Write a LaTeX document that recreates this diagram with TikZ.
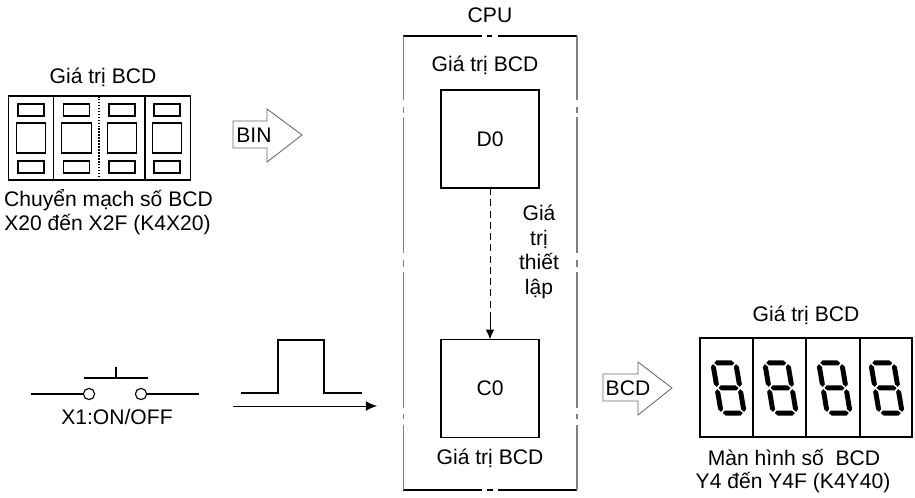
\documentclass[tikz,border=0pt]{standalone}
\usepackage{fontspec}
\setmainfont{Liberation Sans}
\usepackage{tikz}
\usetikzlibrary{arrows.meta}
\newcommand{\hsegat}[1]{\fill[shift={(0,#1)}] (-10,0)--(-7.5,-2.5)--(7.5,-2.5)--(10,0)--(7.5,2.5)--(-7.5,2.5)--cycle;}
\newcommand{\vsegat}[2]{\fill[shift={(#1,#2)}] (0,-11.3)--(-2.5,-8.8)--(-2.5,8.8)--(0,11.3)--(2.5,8.8)--(2.5,-8.8)--cycle;}
\tikzset{
  lbl/.style={inner sep=0pt,font=\fontsize{15}{17.4}\selectfont},
  cnt/.style={draw,line width=1pt,minimum width=2.45cm,minimum height=2.45cm,inner sep=0pt,outer sep=0pt,font=\fontsize{15}{17.4}\selectfont},
  slot/.style={draw,line width=0.8pt,minimum width=0.65cm,minimum height=0.3cm,inner sep=0pt},
  wheel/.style={draw,line width=0.8pt,minimum width=0.74cm,minimum height=0.75cm,inner sep=0pt},
  contact/.style={circle,draw,line width=0.8pt,minimum size=0.28cm,inner sep=0pt,outer sep=0pt},
  wire/.style={line width=1pt},
  bigarrow/.style={draw=black!60,line width=0.6pt},
  sidebar/.style={draw=black!50,line width=0.8pt},
  capbar/.style={line width=0.8pt},
  digit/.pic={
    \begin{scope}[xslant=-0.17]
    \hsegat{-25}\hsegat{0}\hsegat{25}
    \vsegat{-11.5}{-12.5}\vsegat{11.5}{-12.5}\vsegat{-11.5}{12.5}\vsegat{11.5}{12.5}
    \end{scope}
  }
}

\begin{document}
\begin{tikzpicture}[x=0.025cm,y=-0.025cm]
\useasboundingbox (0,0) rectangle (915,498);
% digital switch
\node[lbl] (swtop) at (103,77) {Giá trị BCD};
\node[draw,line width=0.8pt,minimum width=4.54cm,minimum height=2.1cm,inner sep=0pt] (swbox) at (99.3,138) {};
\foreach \x in {53.5,145} \draw[line width=1.3pt] (\x,96)--(\x,180);
\draw[line width=1.1pt,densely dotted] (99,96)--(99,180);
\foreach \i/\x in {1/31,2/76.5,3/122,4/167} {
  \node[slot] (st\i) at (\x,110) {};
  \node[wheel] (sm\i) at (\x,138) {};
  \node[slot] (sb\i) at (\x,167) {};
}
\node[lbl] (swname) at (108.5,200) {Chuyển mạch số BCD};
\node[lbl] (swaddr) at (107.5,225) {X20 đến X2F (K4X20)};
% BIN
\draw[bigarrow] (233,121)--(267,121)--(267,109)--(302,135)--(267,162)--(267,148)--(233,148)--cycle;
\node[lbl] (bin) at (254,135) {BIN};
% CPU
\node[lbl] (cpu) at (490,15) {CPU};
\draw[capbar] (403,36)--(482,36) (487,36)--(492,36) (498,36)--(577,36);
\draw[capbar] (403,490)--(482,490) (487,490)--(493,490) (498,490)--(577,490);
\foreach \x in {403.5,577} {
  \draw[sidebar] (\x,36)--(\x,100) (\x,107)--(\x,113) (\x,117)--(\x,253) (\x,260)--(\x,267) (\x,272)--(\x,408)
    (\x,414)--(\x,419) (\x,425)--(\x,490);
}
\node[lbl] (dtop) at (485,65) {Giá trị BCD};
\node[cnt] (d0) at (490,139) {D0};
\node[cnt] (c0) at (490,388.5) {C0};
\node[lbl] (cbot) at (490,458) {Giá trị BCD};
\coordinate (dashend) at (490,312);
\draw[line width=0.7pt,dash pattern=on 5pt off 3pt] (d0)--(dashend);
\draw[line width=0.7pt,-{Latex[length=7pt,width=6pt]}] (dashend)--(c0);
\node[lbl,align=center] (setval) at (539,252) {Giá\\trị\\thiết\\lập};
% contact
\node[contact] (ka) at (89,394) {};
\node[contact] (kb) at (141,394) {};
\coordinate (wl) at (31,394);
\coordinate (wr) at (199,394);
\draw[wire] (wl)--(ka) (kb)--(wr);
\draw[wire] (84,378)--(148,378) (116,367)--(116,378);
\node[lbl] (x1) at (117,417) {X1:ON/OFF};
% pulse
\draw[wire] (241,393)--(278,393)--(278,340)--(324,340)--(324,393)--(362,393);
\coordinate (ps) at (233,406);
\coordinate (pe) at (377,406);
\draw[line width=0.7pt,-{Latex[length=8pt,width=7pt]}] (ps)--(pe);
% BCD
\draw[bigarrow] (603,374)--(638,374)--(638,362)--(672,388)--(638,415)--(638,401)--(603,401)--cycle;
\node[lbl] (bcd) at (628,388) {BCD};
% display
\node[lbl] (distop) at (806,315) {Giá trị BCD};
\node[draw,line width=1.3pt,minimum width=5.3cm,minimum height=2.475cm,inner sep=0pt] (disbox) at (806,387.5) {};
\foreach \x in {753,806,860} \draw[line width=1.2pt] (\x,338)--(\x,437);
\foreach \x in {728.5,780.5,834.5,886.5} \pic at (\x,388) {digit};
\node[lbl] (disname) at (794,457) {Màn hình số~ BCD};
\node[lbl] (disaddr) at (793,483) {Y4 đến Y4F (K4Y40)};
\end{tikzpicture}
\end{document}
